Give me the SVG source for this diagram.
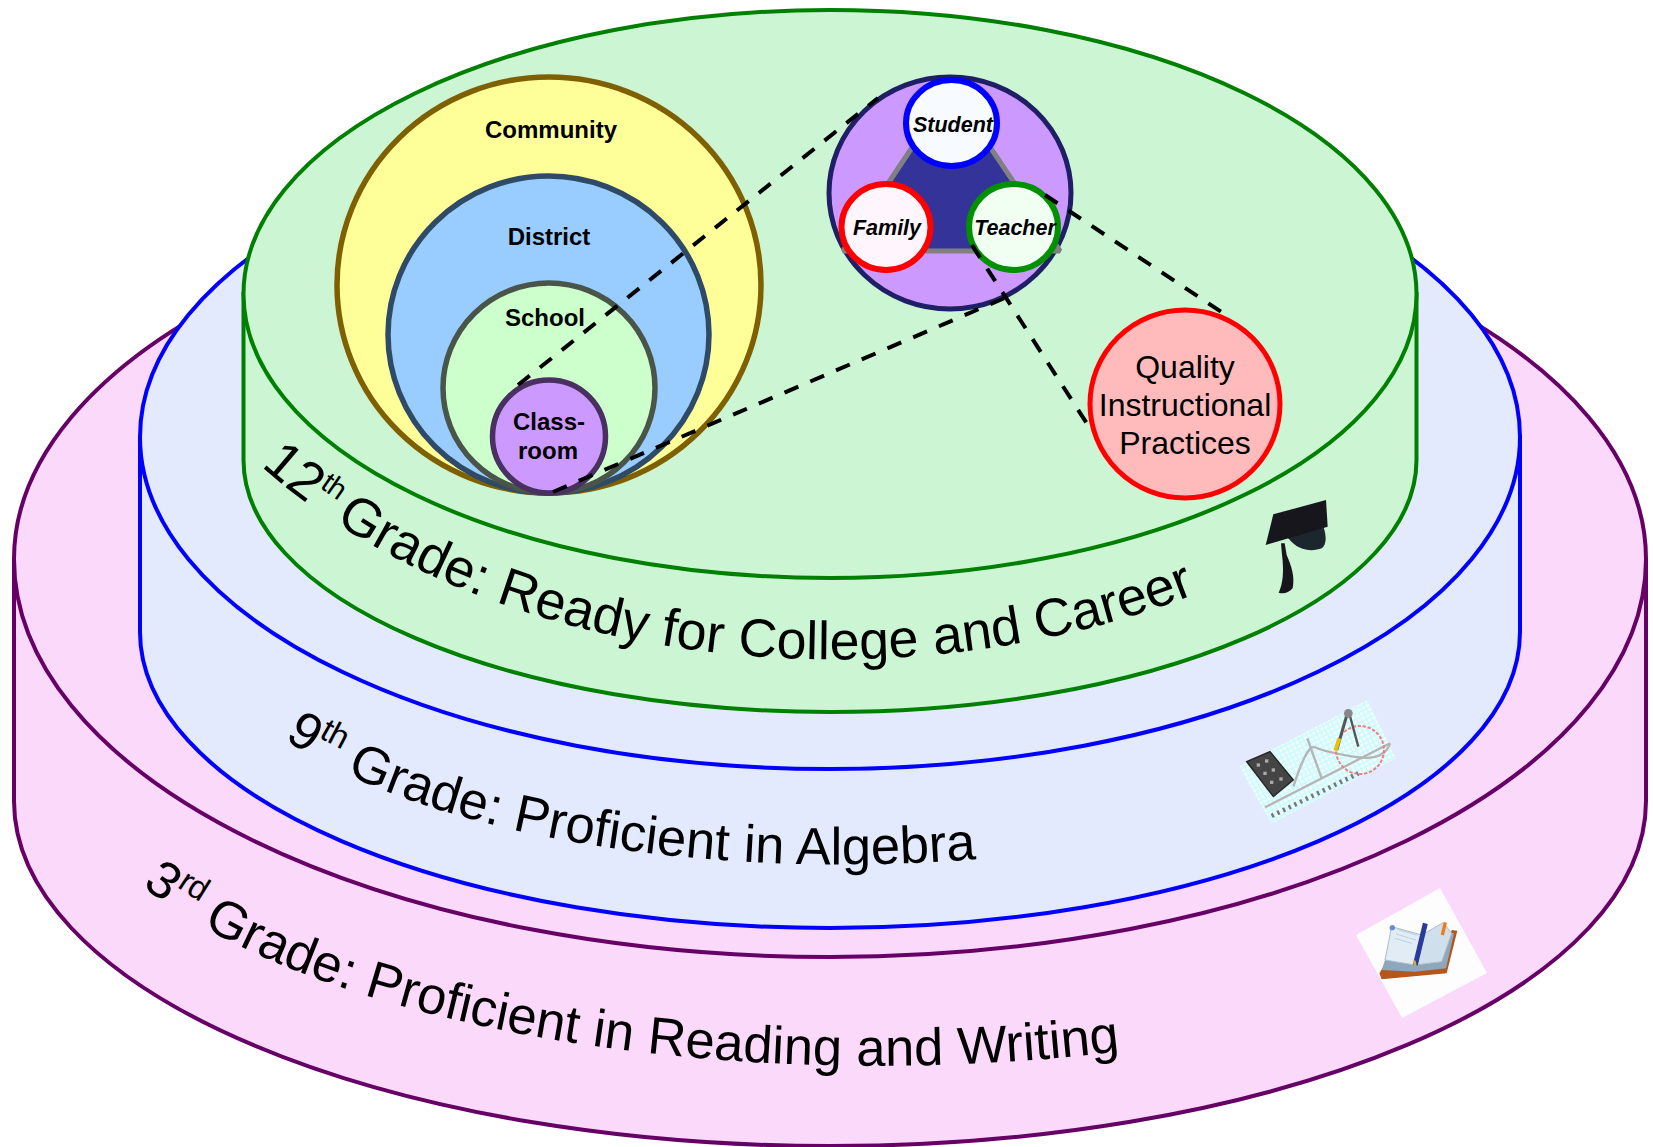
<svg xmlns="http://www.w3.org/2000/svg" width="1653" height="1147" viewBox="0 0 1653 1147">
<style>
text{font-family:"Liberation Sans",Arial,sans-serif;fill:#000}
.grade{font-size:52.500px}
.g12{font-size:53.800px}
.sup{font-size:33px}
.sup12{font-size:29px}
.b{font-weight:bold;font-size:24px;text-anchor:middle}
.bi{font-weight:bold;font-style:italic;font-size:21.5px;text-anchor:middle}
.q{font-size:32px;text-anchor:middle}
.dash{fill:none;stroke:#000;stroke-width:4;stroke-dasharray:15 13}
</style>
<defs>
<path id="p3" d="M 142 886 A 820 323 0 0 0 1612 886"/>
<path id="p9" d="M 284 739 A 640 246 0 0 0 1400 739"/>
<path id="p12" d="M 261 466 A 720 488 0 0 0 1409 466"/>
<pattern id="grid" width="14" height="14" patternUnits="userSpaceOnUse" patternTransform="rotate(-27.5)"><rect width="14" height="14" fill="#ccfbfd"/><rect x="3" y="3" width="9" height="9" fill="#f4fdfe"/></pattern>
<filter id="soft" x="-10%" y="-10%" width="120%" height="120%"><feGaussianBlur stdDeviation="0.6"/></filter>
</defs>
<rect width="1653" height="1147" fill="#fff"/>
<g id="grade3">
<path d="M14 559V801A816 345 0 0 0 1646 801V559Z" fill="#fad9fa"/>
<path d="M14 559A816 385 0 0 1 1646 559A816 398 0 0 1 14 559Z" fill="#fad9fa"/>
<g id="book-icon">
<polygon points="1356,935 1440,888 1487,973 1402,1018" fill="#fdfdfd"/>
<g filter="url(#soft)" transform="translate(1340 870) scale(.33333)">
<polygon points="118,310 125,328 320,310 352,182 335,180 305,290 225,300 130,290" fill="#b5561c"/>
<polygon points="125,300 135,270 225,285 305,275 335,188 342,190 318,295 225,305" fill="#8fa6bb"/>
<polygon points="155,170 245,195 225,285 135,270" fill="#e2ecf4" stroke="#a8bccc" stroke-width="3"/>
<polygon points="245,195 310,158 335,190 305,275 225,285" fill="#cfdfeb" stroke="#a8bccc" stroke-width="3"/>
<path d="M172 178L232 196M168 192L228 210M165 205L215 220" stroke="#bccfe0" stroke-width="3" fill="none"/>
<line x1="226" y1="285" x2="256" y2="160" stroke="#2a3a9a" stroke-width="15"/>
<line x1="226" y1="285" x2="222" y2="272" stroke="#e0b030" stroke-width="8"/>
<line x1="307" y1="195" x2="316" y2="157" stroke="#f07a20" stroke-width="10"/>
<circle cx="157" cy="173" r="8" fill="#6a8ad8"/>
</g>
</g>
<path d="M14 559V801A816 345 0 0 0 1646 801V559" fill="none" stroke="#660066" stroke-width="4"/>
<path d="M14 559A816 385 0 0 1 1646 559A816 398 0 0 1 14 559Z" fill="none" stroke="#660066" stroke-width="4"/>
<text class="grade"><textPath href="#p3">3<tspan class="sup" dy="-20">rd</tspan><tspan dy="20"> Grade: Proficient in Reading and Writing</tspan></textPath></text>
</g>
<g id="grade9">
<path d="M140 437V632A690 296 0 0 0 1520 632V437Z" fill="#e4eafd" stroke="#0000ff" stroke-width="4"/>
<ellipse cx="830" cy="437" rx="690" ry="332" fill="#e4eafd" stroke="#0000ff" stroke-width="4"/>
<text class="grade"><textPath href="#p9">9<tspan class="sup" dy="-20">th</tspan><tspan dy="20"> Grade: Proficient in Algebra</tspan></textPath></text>
<g id="math-icon" filter="url(#soft)" transform="translate(1220 690) scale(.33333)">
<polygon points="58,230 443,30 527,205 155,400" fill="url(#grid)"/>
<line x1="135" y1="352" x2="510" y2="160" stroke="#b5b5b5" stroke-width="7"/>
<line x1="262" y1="145" x2="305" y2="265" stroke="#b5b5b5" stroke-width="7"/>
<path d="M220 290Q262 160 285 172T400 200T510 160" fill="none" stroke="#b5b5b5" stroke-width="7"/>
<circle cx="420" cy="180" r="72" fill="none" stroke="#ee8080" stroke-width="6" stroke-dasharray="10 5"/>
<polygon points="80,215 150,185 220,270 160,320" fill="#444" stroke="#222" stroke-width="4"/>
<g fill="#aaa"><rect x="110" y="220" width="10" height="10"/><rect x="135" y="208" width="10" height="10"/><rect x="130" y="245" width="10" height="10"/><rect x="155" y="235" width="10" height="10"/><rect x="150" y="272" width="10" height="10"/><rect x="178" y="262" width="10" height="10"/></g>
<line x1="385" y1="60" x2="350" y2="180" stroke="#555" stroke-width="9"/>
<line x1="358" y1="145" x2="346" y2="182" stroke="#e8c010" stroke-width="12"/>
<line x1="385" y1="60" x2="415" y2="170" stroke="#555" stroke-width="7"/>
<circle cx="385" cy="70" r="13" fill="#888"/>
<line x1="155" y1="378" x2="415" y2="250" stroke="#777" stroke-width="14" stroke-dasharray="7 12"/>
</g>
</g>
<g id="grade12">
<path d="M243.500 294V460A586.500 252 0 0 0 1416.500 460V294Z" fill="#ccf5d4" stroke="#008000" stroke-width="4"/>
<ellipse cx="830" cy="294" rx="586.500" ry="284" fill="#ccf5d4" stroke="#008000" stroke-width="4"/>
<text class="g12"><textPath href="#p12">12<tspan class="sup12" dy="-20">th</tspan><tspan dy="20" dx="-6"> Grade: Ready for College and Career</tspan></textPath></text>
<g id="cap-icon" filter="url(#soft)" fill="#15181c" transform="translate(1220 480) scale(.33333)">
<path d="M205 175C235 215 280 215 305 205C320 195 320 165 310 140L205 165Z" fill="#1e262e"/>
<polygon points="160,103 318,60 323,140 137,195"/>
<path d="M183 190L194 190 200 225C215 260 225 290 218 325C205 340 190 342 176 338C190 310 192 270 186 225Z"/>
</g>
</g>
<g id="community"><ellipse cx="549" cy="285" rx="212" ry="208" fill="#ffff99" stroke="#7f6000" stroke-width="5.500"/><text class="b" x="551" y="138">Community</text></g>
<g id="district"><ellipse cx="548.500" cy="334.500" rx="160.500" ry="158.500" fill="#99ccff" stroke="#2f4a66" stroke-width="5.500"/><text class="b" x="549" y="245">District</text></g>
<g id="school"><ellipse cx="549" cy="388" rx="106" ry="105" fill="#ccffcc" stroke="#4a554a" stroke-width="5.500"/><text class="b" x="545" y="326">School</text></g>
<g id="classroom"><circle cx="549" cy="436.500" r="56.500" fill="#cc99ff" stroke="#4a3060" stroke-width="5.500"/><text class="b" x="549" y="430">Class-</text><text class="b" x="548" y="459">room</text></g>
<g id="triad">
<ellipse cx="950" cy="193" rx="121" ry="116" fill="#cc99ff" stroke="#1f1f66" stroke-width="5"/>
<polygon points="951,89 843,251 1060,251" fill="#333399" stroke="#808080" stroke-width="5" stroke-linejoin="bevel"/>
</g>
<g id="student"><ellipse cx="951.500" cy="123" rx="45.500" ry="43" fill="#f7fbff" stroke="#0000ff" stroke-width="6"/><text class="bi" x="953" y="132">Student</text></g>
<g id="family"><ellipse cx="886" cy="227" rx="44.500" ry="43" fill="#fff5fd" stroke="#ff0000" stroke-width="6"/><text class="bi" x="887" y="235">Family</text></g>
<g id="teacher"><ellipse cx="1013.500" cy="227" rx="44.500" ry="43" fill="#f0fff2" stroke="#009000" stroke-width="6"/><text class="bi" x="1015" y="235">Teacher</text></g>
<g id="practices"><ellipse cx="1185" cy="404" rx="95" ry="94" fill="#ffbbbb" stroke="#ff0000" stroke-width="5"/><text class="q" x="1185" y="378">Quality</text><text class="q" x="1185" y="416">Instructional</text><text class="q" x="1185" y="454">Practices</text></g>
<g id="connectors">
<line class="dash" x1="518" y1="385" x2="878" y2="98"/>
<line class="dash" x1="553" y1="492" x2="1007" y2="297"/>
<line class="dash" x1="972" y1="245" x2="1093" y2="433"/>
<line class="dash" x1="1045" y1="195" x2="1223" y2="313"/>
</g>
</svg>
